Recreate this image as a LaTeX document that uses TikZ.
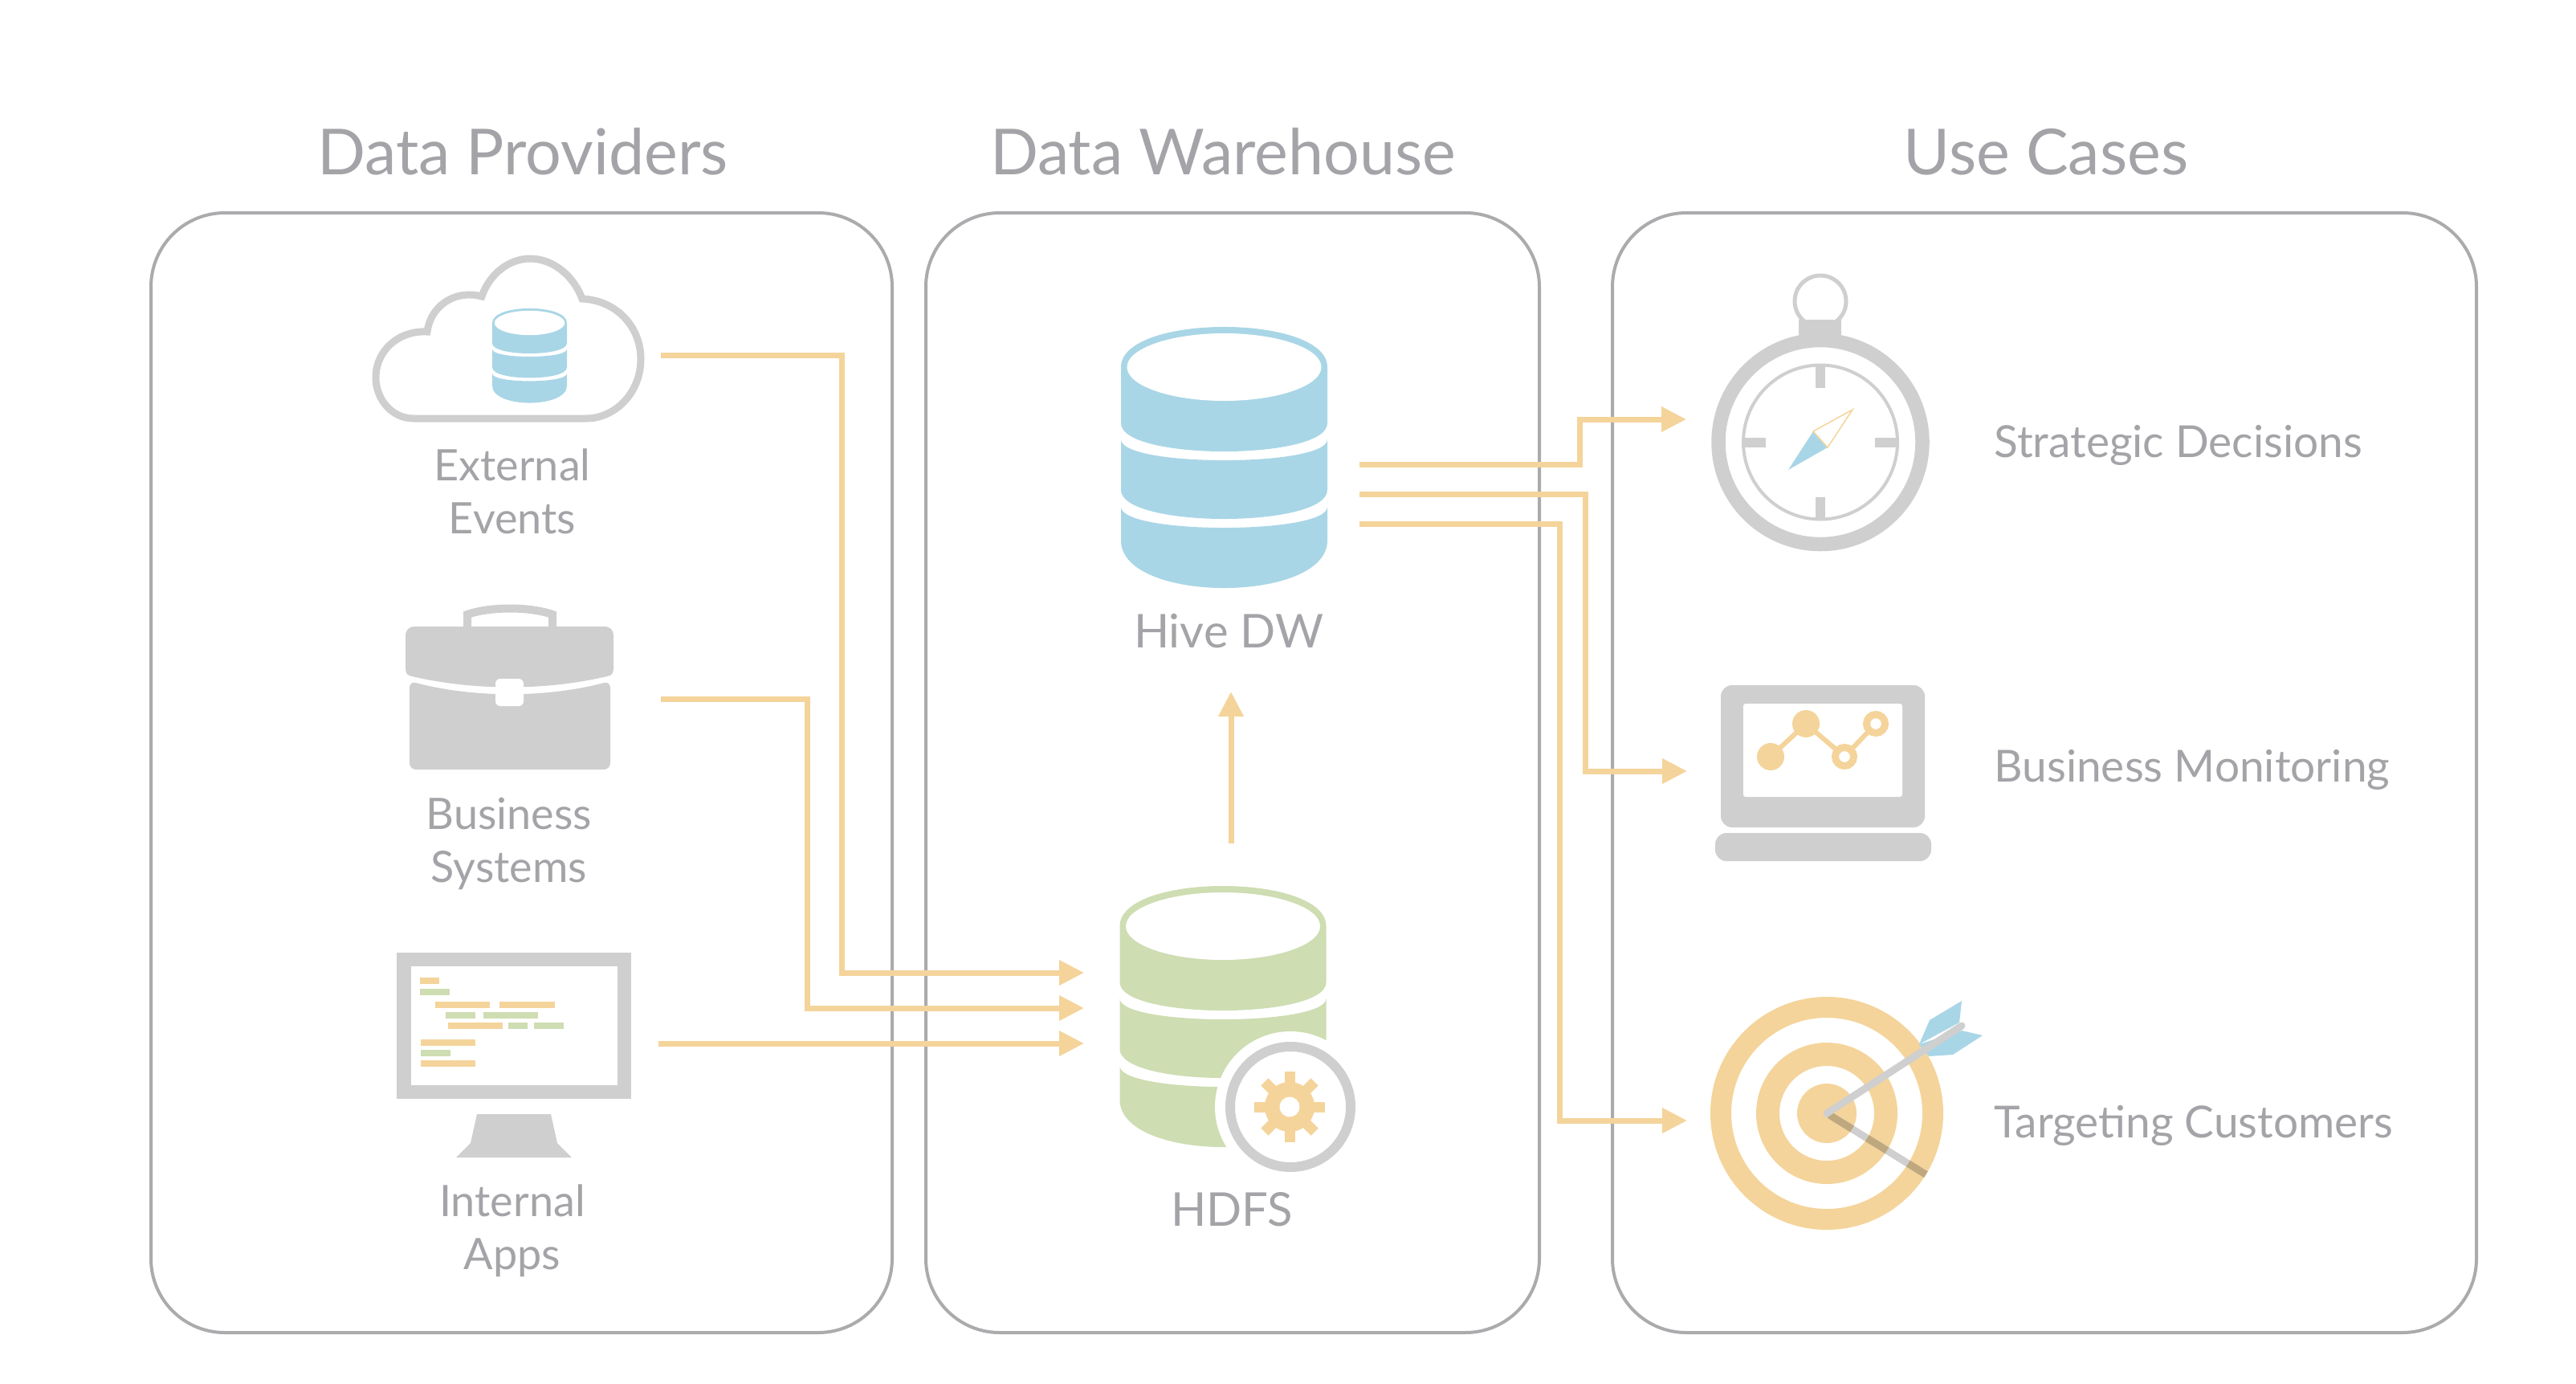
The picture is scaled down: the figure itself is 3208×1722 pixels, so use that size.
\documentclass[tikz,border=0pt]{standalone}
\usepackage{fontspec}
\setmainfont{Lato}
\usetikzlibrary{arrows.meta}
\definecolor{txtgrey}{HTML}{A4A4A8}
\definecolor{boxgrey}{HTML}{ABABAE}
\definecolor{icongrey}{HTML}{CFCFCF}
\definecolor{dbblue}{HTML}{A9D6E6}
\definecolor{dbgreen}{HTML}{CEDDB2}
\definecolor{flowcol}{HTML}{F4D49B}
\definecolor{arrowshade}{HTML}{BFA87E}
\tikzset{
	panel/.style={draw=boxgrey,line width=4,rounded corners=92},
	head/.style={text=txtgrey,anchor=base,font=\fontsize{79}{79}\selectfont},
	label/.style={text=txtgrey,align=center,font=\fontsize{54}{66}\selectfont},
	bigger/.style={font=\fontsize{58}{66}\selectfont},
	usecase/.style={text=txtgrey,anchor=west,font=\fontsize{55}{66}\selectfont},
	flow/.style={draw=flowcol,line width=7,-{Triangle[length=31,width=30]}},
	dbicon/.pic={
		\path[pic actions] (-128.5,0) .. controls (-128.5,-66.7) and (128.5,-66.7) .. (128.5,0) -- (128.5,70)
			.. controls (128.5,116.7) and (-128.5,116.7) .. (-128.5,70) -- cycle;
		\path[pic actions] (-128.5,90) .. controls (-128.5,124.7) and (128.5,124.7) .. (128.5,90) -- (128.5,153)
			.. controls (128.5,201) and (-128.5,201) .. (-128.5,153) -- cycle;
		\path[pic actions] (-128.5,174) .. controls (-128.5,208.7) and (128.5,208.7) .. (128.5,174) -- (128.5,216)
			.. controls (128.5,294.7) and (-128.5,294.7) .. (-128.5,216) -- cycle;
		\fill[white] (0,0) ellipse [x radius=121,y radius=42];
	},
}
\begin{document}
\begin{tikzpicture}[x=1pt,y=-1pt]
	\useasboundingbox (0,0) rectangle (3208,1722);

	%panels
	\draw[panel] (188,265) rectangle (1111,1659);
	\draw[panel] (1153,265) rectangle (1917,1659);
	\draw[panel] (2008,265) rectangle (3084,1659);
	\node (head 1) at (651,217) [head] {Data Providers};
	\node (head 2) at (1523,217) [head] {Data Warehouse};
	\node (head 3) at (2548,217) [head] {Use Cases};

	%cloud
	\draw[icongrey,line width=9] (515,521) .. controls (488,521) and (468,497) .. (468,470)
		.. controls (468,436) and (497,411) .. (532,413)
		.. controls (536,382) and (565,360) .. (600,369)
		.. controls (610,340) and (635,322) .. (660,322)
		.. controls (690,322) and (715,345) .. (725,372)
		.. controls (768,374) and (798,407) .. (798,447)
		.. controls (798,490) and (765,521) .. (730,521) -- cycle;
	\pic[fill=dbblue,scale=.362] at (659.5,402) {dbicon};
	\node (external) at (638,612) [label] {External\\Events};

	%briefcase
	\draw[icongrey,line width=10] (582,782) -- (582,765) .. controls (610,755) and (660,755) .. (688,765) -- (688,782);
	\fill[icongrey] (517,780) -- (752,780) .. controls (760,780) and (764,784) .. (764,792) -- (764,832)
		.. controls (764,838) and (762,841) .. (756,842) .. controls (680,860) and (590,860) .. (513,842)
		.. controls (507,841) and (505,838) .. (505,832) -- (505,792) .. controls (505,784) and (509,780) .. (517,780) -- cycle;
	\fill[icongrey,rounded corners=8] (510,848) .. controls (590,869) and (680,869) .. (760,848) -- (760,958) -- (510,958) -- cycle;
	\fill[white,rounded corners=6] (617,845) rectangle (652,879);
	\node (business) at (634,1050) [label] {Business\\Systems};

	%monitor
	\fill[icongrey] (494,1186) rectangle (786,1368);
	\fill[white] (512,1203) rectangle (769,1351);
	\fill[icongrey] (594,1387) -- (686,1387) -- (694,1423) -- (712,1441) -- (568,1441) -- (586,1423) -- cycle;
	\foreach \xa/\xb/\ya in {523/547/1221,542/610/1251,622/691/1251,558/626/1277,524/592/1298,524/592/1324}
		\fill[flowcol] (\xa,\ya-4) rectangle (\xb,\ya+4);
	\foreach \xa/\xb/\ya in {523/560/1235,555/592/1264,602/670/1264,633/657/1277,665/702/1277,524/561/1311}
		\fill[dbgreen] (\xa,\ya-4) rectangle (\xb,\ya+4);
	\node (internal) at (638,1532) [label] {Internal\\Apps};

	%warehouse
	\pic[fill=dbblue] at (1524.5,457) {dbicon};
	\node (hive) at (1530,786) [label,bigger] {Hive DW};
	\pic[fill=dbgreen] at (1523,1153) {dbicon};
	\fill[white] (1607,1378) circle [radius=94];
	\draw[icongrey,line width=12] (1607,1378) circle [radius=75];
	\fill[flowcol] (1606,1378) circle [radius=31];
	\foreach \ang in {0,45,...,315}
		\draw[flowcol,line width=13] (1606,1378) ++(\ang:25) -- ++(\ang:19);
	\fill[white] (1606,1378) circle [radius=12.5];
	\node (hdfs) at (1534,1506) [label,bigger] {HDFS};

	%compass
	\draw[icongrey,line width=5] (2267,375) circle [radius=32];
	\fill[icongrey] (2240,398) rectangle (2293,425);
	\draw[icongrey,line width=17.5] (2267,550.5) circle [radius=127];
	\draw[icongrey,line width=4] (2267,550.5) circle [radius=96];
	\foreach \ang in {0,90,180,270}
		\draw[icongrey,line width=12] (2267,550.5) ++(\ang:95) -- ++(\ang:-27);
	\fill[dbblue] (2227,585) -- (2258,537) -- (2276,557) -- cycle;
	\draw[flowcol,line width=1.5] (2258,537) -- (2307,510) -- (2276,557) -- cycle;
	\node (decisions) at (2480,554) [usecase] {Strategic Decisions};

	%laptop
	\fill[icongrey,rounded corners=14] (2143,853) rectangle (2397,1030);
	\fill[white,rounded corners=3] (2171,876) rectangle (2369,992);
	\fill[icongrey,rounded corners=14] (2136,1037) -- (2405,1037) -- (2405,1072) -- (2136,1072) -- cycle;
	\draw[flowcol,line width=6] (2205,942) -- (2249,901) -- (2297,942) -- (2336,901);
	\fill[flowcol] (2205,942) circle [radius=17];
	\fill[flowcol] (2249,901) circle [radius=17];
	\foreach \px/\py in {2297/942,2336/901}
		\draw[flowcol,line width=9,fill=white] (\px,\py) circle [radius=11.5];
	\node (monitoring) at (2480,958) [usecase] {Business Monitoring};

	%target
	\draw[flowcol,line width=26] (2275,1386) circle [radius=132];
	\draw[flowcol,line width=29] (2275,1386) circle [radius=73.5];
	\fill[flowcol] (2275,1386) circle [radius=37];
	\draw[icongrey,line width=9] (2275,1386) -- (2398,1462);
	\foreach \ra/\rb in {4/37,59/88,119/145}
		\draw[arrowshade,line width=9] (2275,1386) ++(31.7:\ra) -- ++(31.7:\rb-\ra);
	\fill[dbblue] (2390,1300) -- (2403,1270) -- (2443,1246) -- (2440,1273) -- cycle;
	\fill[dbblue] (2390,1300) -- (2402,1315) -- (2432,1313) -- (2469,1289) -- (2443,1283) -- cycle;
	\draw[icongrey,line width=9,line cap=round] (2275,1386) -- (2443,1277);
	\node (customers) at (2480,1401) [usecase] {Targeting Customers};

	%ends of the connectors
	\coordinate (external out) at (823,442);
	\coordinate (business out) at (823,870);
	\coordinate (internal out) at (820,1299);
	\coordinate (external bend) at (1048,1211);
	\coordinate (business bend) at (1005,1255);
	\coordinate (hdfs in 1) at (1350,1211);
	\coordinate (hdfs in 2) at (1350,1255);
	\coordinate (hdfs in 3) at (1350,1299);
	\coordinate (hdfs out) at (1533,1050);
	\coordinate (hive in) at (1533,861);
	\coordinate (hive out 1) at (1693,578);
	\coordinate (hive out 2) at (1693,615);
	\coordinate (hive out 3) at (1693,652);
	\coordinate (decisions bend) at (1967,522);
	\coordinate (monitoring bend) at (1974,960);
	\coordinate (customers bend) at (1942,1395);
	\coordinate (decisions in) at (2100,522);
	\coordinate (monitoring in) at (2101,960);
	\coordinate (customers in) at (2101,1395);

	%connectors
	\draw[flow] (external out) -| (external bend) -- (hdfs in 1);
	\draw[flow] (business out) -| (business bend) -- (hdfs in 2);
	\draw[flow] (internal out) -- (hdfs in 3);
	\draw[flow] (hdfs out) -- (hive in);
	\draw[flow] (hive out 1) -| (decisions bend) -- (decisions in);
	\draw[flow] (hive out 2) -| (monitoring bend) -- (monitoring in);
	\draw[flow] (hive out 3) -| (customers bend) -- (customers in);
\end{tikzpicture}
\end{document}
